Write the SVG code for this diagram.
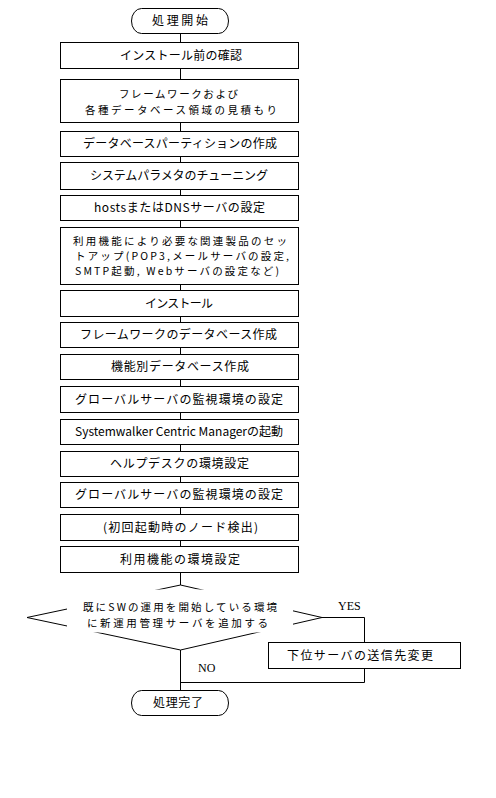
<svg xmlns="http://www.w3.org/2000/svg" width="496" height="798" viewBox="0 0 496 798">
<style>
.bg{fill:#fff}
.box,.term,.dec{fill:#fff;stroke:#000;stroke-width:1}
.ln{fill:none;stroke:#000;stroke-width:1}
.t{font-family:"Noto Sans CJK JP","Noto Sans",sans-serif;font-size:12px;fill:#000;text-anchor:middle}
.m{font-size:10.5px}
.l{font-family:"Liberation Serif",serif;font-size:12px;fill:#000}
</style>
<rect class="bg" x="0" y="0" width="496" height="798"/>
<g id="connectors">
<path class="ln" d="M180.5 33V585"/>
<path class="ln" d="M180.5 650V690"/>
<path class="ln" d="M322 617.5H364.5V642"/>
<path class="ln" d="M364.5 668V682.5H180.5"/>
</g>
<g id="start"><rect class="term" x="131.5" y="8.5" width="97" height="25" rx="10" ry="12.5"/><text class="t" x="180" y="25" textLength="56">処理開始</text></g>
<g id="n1"><rect class="box" x="60.5" y="42.5" width="238" height="26"/><text class="t" x="181" y="59.5" textLength="122">インストール前の確認</text></g>
<g id="n2"><rect class="box" x="60.5" y="79.5" width="238" height="43"/><text class="t m" x="178.5" y="98" textLength="119">フレームワークおよび</text><text class="t m" x="181" y="114" textLength="192">各種データベース領域の見積もり</text></g>
<g id="n3"><rect class="box" x="60.5" y="131.5" width="238" height="25"/><text class="t" x="180" y="148" textLength="194">データベースパーティションの作成</text></g>
<g id="n4"><rect class="box" x="60.5" y="162.5" width="238" height="27"/><text class="t" x="179" y="180" textLength="178">システムパラメタのチューニング</text></g>
<g id="n5"><rect class="box" x="60.5" y="195.5" width="238" height="25"/><text class="t" x="179.5" y="212" textLength="171">hostsまたはDNSサーバの設定</text></g>
<g id="n6"><rect class="box" x="60.5" y="227.5" width="238" height="57"/><text class="t m" x="180" y="244.5" textLength="214">利用機能により必要な関連製品のセッ</text><text class="t m" x="182" y="259.5" textLength="214">トアップ(POP3,メールサーバの設定,</text><text class="t m" x="177" y="274.5" textLength="204">SMTP起動, Webサーバの設定など)</text></g>
<g id="n7"><rect class="box" x="60.5" y="290.5" width="238" height="26"/><text class="t" x="179" y="307.5" textLength="68">インストール</text></g>
<g id="n8"><rect class="box" x="60.5" y="322.5" width="238" height="25"/><text class="t" x="178.5" y="339" textLength="197">フレームワークのデータベース作成</text></g>
<g id="n9"><rect class="box" x="60.5" y="354.5" width="238" height="25"/><text class="t" x="180" y="371" textLength="138">機能別データベース作成</text></g>
<g id="n10"><rect class="box" x="60.5" y="386.5" width="238" height="26"/><text class="t" x="179" y="403.5" textLength="208">グローバルサーバの監視環境の設定</text></g>
<g id="n11"><rect class="box" x="60.5" y="419.5" width="238" height="25"/><text class="t" x="179" y="436" textLength="208">Systemwalker Centric Managerの起動</text></g>
<g id="n12"><rect class="box" x="60.5" y="451.5" width="238" height="25"/><text class="t" x="179.5" y="468" textLength="139">ヘルプデスクの環境設定</text></g>
<g id="n13"><rect class="box" x="60.5" y="482.5" width="238" height="25"/><text class="t" x="179" y="499" textLength="208">グローバルサーバの監視環境の設定</text></g>
<g id="n14"><rect class="box" x="60.5" y="514.5" width="238" height="26"/><text class="t" x="180.5" y="531.5" textLength="155">(初回起動時のノード検出)</text></g>
<g id="n15"><rect class="box" x="60.5" y="546.5" width="238" height="26"/><text class="t" x="180" y="563.5" textLength="120">利用機能の環境設定</text></g>
<g id="decision"><polygon class="dec" points="180.5,585 322,617.5 180.5,650 27,617.5"/><rect class="bg" x="67" y="589.5" width="226" height="43"/><text class="t m" x="180" y="611" textLength="194">既にSWの運用を開始している環境</text><text class="t m" x="177.5" y="626.5" textLength="181">に新運用管理サーバを追加する</text><text class="l" x="338" y="610">YES</text><text class="l" x="198" y="672">NO</text></g>
<g id="n16"><rect class="box" x="268.5" y="642.5" width="192" height="26"/><text class="t" x="360" y="659.5" textLength="146">下位サーバの送信先変更</text></g>
<g id="end"><rect class="term" x="131.5" y="690.5" width="97" height="25" rx="10" ry="12.5"/><text class="t" x="178" y="707" textLength="50">処理完了</text></g>
</svg>
